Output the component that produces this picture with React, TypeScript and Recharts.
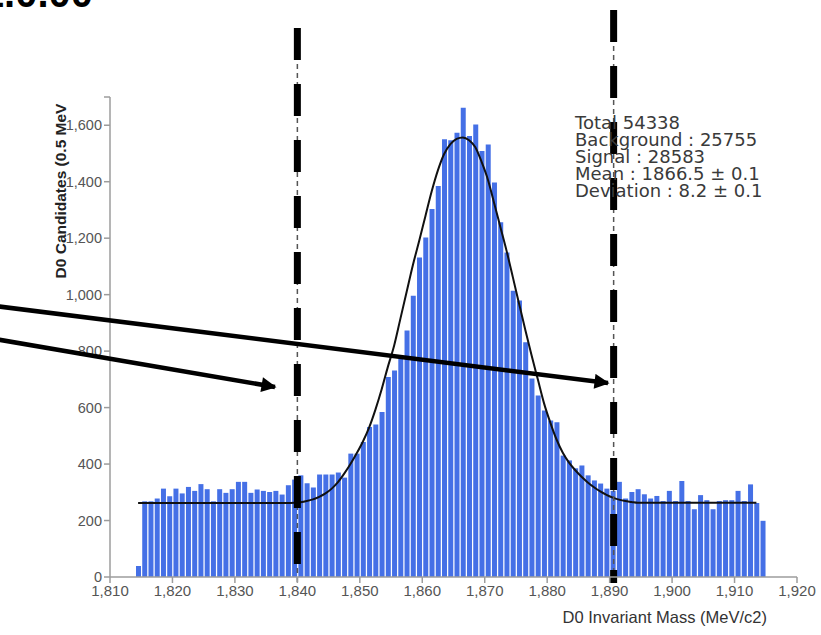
import React from "react";
import { Bar, ComposedChart, Line, ReferenceLine, XAxis, YAxis } from "recharts";

// histogram bin centres, 1 MeV wide
const massBins = [
  1814.5, 1815.5, 1816.5, 1817.5, 1818.5, 1819.5, 1820.5, 1821.5, 1822.5, 1823.5,
  1824.5, 1825.5, 1826.5, 1827.5, 1828.5, 1829.5, 1830.5, 1831.5, 1832.5, 1833.5,
  1834.5, 1835.5, 1836.5, 1837.5, 1838.5, 1839.5, 1840.5, 1841.5, 1842.5, 1843.5,
  1844.5, 1845.5, 1846.5, 1847.5, 1848.5, 1849.5, 1850.5, 1851.5, 1852.5, 1853.5,
  1854.5, 1855.5, 1856.5, 1857.5, 1858.5, 1859.5, 1860.5, 1861.5, 1862.5, 1863.5,
  1864.5, 1865.5, 1866.5, 1867.5, 1868.5, 1869.5, 1870.5, 1871.5, 1872.5, 1873.5,
  1874.5, 1875.5, 1876.5, 1877.5, 1878.5, 1879.5, 1880.5, 1881.5, 1882.5, 1883.5,
  1884.5, 1885.5, 1886.5, 1887.5, 1888.5, 1889.5, 1890.5, 1891.5, 1892.5, 1893.5,
  1894.5, 1895.5, 1896.5, 1897.5, 1898.5, 1899.5, 1900.5, 1901.5, 1902.5, 1903.5,
  1904.5, 1905.5, 1906.5, 1907.5, 1908.5, 1909.5, 1910.5, 1911.5, 1912.5, 1913.5,
  1914.5,
];

const candidates = [
  39, 268, 268, 278, 313, 286, 313, 296, 319, 305,
  329, 311, 268, 311, 298, 311, 337, 337, 298, 310,
  305, 301, 305, 292, 325, 345, 360, 332, 317, 363,
  363, 363, 370, 352, 437, 437, 478, 531, 540, 584,
  708, 731, 772, 873, 996, 1132, 1202, 1303, 1385, 1550,
  1547, 1573, 1662, 1562, 1603, 1509, 1532, 1397, 1256, 1149,
  1014, 979, 831, 703, 643, 590, 554, 548, 430, 413,
  385, 395, 360, 342, 331, 313, 305, 337, 278, 301,
  311, 293, 278, 287, 269, 305, 269, 340, 269, 240,
  290, 272, 240, 269, 272, 272, 305, 269, 328, 262,
  199,
];

// fitted curve at each bin centre
const fitCurve: (number | null)[] = [
  262, 262, 262, 262, 262, 262, 262, 262, 262, 262,
  262, 262, 262, 262, 262, 262, 262, 262, 262, 262,
  262, 262, 262, 262, 262, 263, 265, 269, 275, 284,
  296, 313, 336, 366, 400, 438, 480, 530, 593, 665,
  745, 820, 915, 1010, 1105, 1190, 1278, 1365, 1440, 1498,
  1533, 1552, 1557, 1547, 1522, 1470, 1408, 1325, 1240, 1155,
  1062, 968, 875, 785, 700, 615, 547, 487, 440, 405,
  378, 355, 335, 318, 303, 291, 281, 274, 269, 266,
  263, 263, 263, 263, 263, 263, 263, 263, 263, 263,
  263, 263, 263, 263, 263, 263, 263, 263, 263, 263,
  null,
];

const massTicks = [1810, 1820, 1830, 1840, 1850, 1860, 1870, 1880, 1890, 1900, 1910, 1920];
const countTicks = [0, 200, 400, 600, 800, 1000, 1200, 1400, 1600, 1700];
const cutLow = 1840;
const cutHigh = 1890;

const fitStats = [
  "Total 54338",
  "Background : 25755",
  "Signal : 28583",
  "Mean : 1866.5 ± 0.1",
  "Deviation : 8.2 ± 0.1",
];

const data = massBins.map((mass, i) => ({ mass, count: candidates[i], fit: fitCurve[i] }));

const num = (n: number) => n.toLocaleString("en-US");
const sans = "'Liberation Sans', Arial, Helvetica, sans-serif";
const axisGrey = "#9c9c9c";
const xTick = { fontSize: 15, fill: "#555", fontFamily: sans };
const yTick = { fontSize: 14.5, fill: "#555", fontFamily: sans };

function cutLine(props: any, top: number, dx: number) {
  const x = props.x1 + dx;
  return (
    <g>
      <line x1={x} x2={x} y1={top} y2={583} stroke="#555" strokeWidth={1.5} strokeDasharray="5 4" />
      <line x1={x} x2={x} y1={top} y2={583} stroke="#000" strokeWidth={7} strokeDasharray="32 24" />
    </g>
  );
}

export default function App() {
  return (
    <div style={{ position: "absolute", left: 0, top: 0, width: 821, height: 635, background: "#fff", overflow: "hidden" }}>
      <ComposedChart
        width={821}
        height={635}
        data={data}
        margin={{ top: 97, right: 24, bottom: 0, left: 0 }}
        barSize={5}
      >
        <XAxis
          dataKey="mass"
          type="number"
          domain={[1810, 1920]}
          ticks={massTicks}
          interval={0}
          tickFormatter={num}
          height={58}
          tick={xTick}
          axisLine={{ stroke: axisGrey, strokeWidth: 1.5 }}
          tickLine={{ stroke: axisGrey, strokeWidth: 1.5 }}
        />
        <YAxis
          type="number"
          domain={[0, 1700]}
          ticks={countTicks}
          interval={0}
          tickFormatter={(v: number) => (v === 1700 ? "" : num(v))}
          width={110}
          tick={yTick}
          axisLine={{ stroke: axisGrey, strokeWidth: 1.5 }}
          tickLine={{ stroke: axisGrey, strokeWidth: 1.5 }}
        />
        <Bar dataKey="count" fill="#4570e6" isAnimationActive={false} />
        <Line
          dataKey="fit"
          type="monotone"
          stroke="#111"
          strokeWidth={2}
          dot={false}
          connectNulls={false}
          isAnimationActive={false}
        />
        <ReferenceLine x={cutLow} shape={(p: any) => cutLine(p, 28, 0)} />
        <ReferenceLine x={cutHigh} shape={(p: any) => cutLine(p, 10, 4)} />
      </ComposedChart>

      {/* annotations drawn on top of the chart */}
      <svg width={821} height={635} style={{ position: "absolute", left: 0, top: 0, pointerEvents: "none" }}>
        <defs>
          <marker id="head" viewBox="0 0 10 10" refX="9" refY="5" markerWidth="20" markerHeight="15" markerUnits="userSpaceOnUse" orient="auto">
            <path d="M0,0 L10,5 L0,10 z" fill="#000" />
          </marker>
        </defs>
        <text x={93} y={7} textAnchor="end" fontFamily={sans} fontWeight="bold" fontSize={40} fill="#000">1.0.00</text>
        <line x1={-5} y1={306} x2={608} y2={383} stroke="#000" strokeWidth={4.5} markerEnd="url(#head)" />
        <line x1={-5} y1={339} x2={275} y2={387} stroke="#000" strokeWidth={4.5} markerEnd="url(#head)" />
        {fitStats.map((s, i) => (
          <text key={s} x={575} y={129 + i * 17} fontFamily="'DejaVu Sans', Verdana, sans-serif" fontSize={18} fill="#3a3a3a">
            {s}
          </text>
        ))}
        <text
          transform="translate(66,191) rotate(-90)"
          textAnchor="middle"
          fontFamily={sans}
          fontWeight="bold"
          fontSize={15.5}
          fill="#222"
        >
          D0 Candidates (0.5 MeV
        </text>
        <text x={767} y={623} textAnchor="end" fontFamily={sans} fontSize={16.5} fill="#333">
          D0 Invariant Mass (MeV/c2)
        </text>
      </svg>
    </div>
  );
}
